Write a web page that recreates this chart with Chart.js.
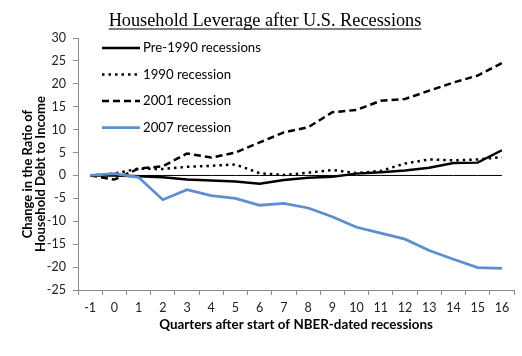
<!DOCTYPE html>
<html>
<head>
<meta charset="utf-8">
<script src="https://cdn.jsdelivr.net/npm/chart.js@4.4.0/dist/chart.umd.min.js"></script>
<style>
html,body{margin:0;padding:0;background:#fff;}
#wrap{width:522px;height:356px;position:relative;}
</style>
</head>
<body>
<div id="wrap"><canvas id="c" width="522" height="356"></canvas></div>
<script>
const categories = ['-1','0','1','2','3','4','5','6','7','8','9','10','11','12','13','14','15','16'];
const pre1990 = [0,0,-0.2,-0.4,-0.9,-1.1,-1.3,-1.8,-1.0,-0.5,-0.3,0.4,0.7,1.1,1.7,2.7,2.8,5.5];
const rec1990 = [0,0.4,1.5,1.4,1.9,2.1,2.4,0.5,0.1,0.6,1.2,0.5,1.0,2.6,3.5,3.3,3.5,4.0];
const rec2001 = [0,-0.9,1.5,2.0,4.8,3.9,5.0,7.2,9.4,10.5,13.8,14.3,16.3,16.7,18.5,20.3,21.8,24.5];
const rec2007 = [0,0.4,-0.4,-5.3,-3.1,-4.4,-5.0,-6.5,-6.1,-7.1,-9.0,-11.3,-12.6,-13.9,-16.4,-18.3,-20.1,-20.3];
const zeroLine = [0,0,0,0,0,0,0,0,0,0,0,0,0,0,0,0,0,0];
const seriesNames = ['Pre-1990 recessions','1990 recession','2001 recession','2007 recession'];
const yTicks = {min:-25, max:30, step:5};
const titleText = 'Household Leverage after U.S. Recessions';
const yTitle = ['Change in the Ratio of','Household Debt to Income'];
const xTitle = 'Quarters after start of NBER-dated recessions';

const FONT = 'Lato, "DejaVu Sans", sans-serif';

const decor = {
  id:'decor',
  afterDraw(chart){
    const ctx = chart.ctx;
    ctx.save();
    // title
    ctx.font = '18.3px "Liberation Serif", "Times New Roman", serif';
    ctx.fillStyle = '#000';
    ctx.textAlign = 'center';
    ctx.textBaseline = 'alphabetic';
    const tx = 265, ty = 25.5;
    ctx.fillText(titleText, tx, ty);
    const w = ctx.measureText(titleText).width;
    ctx.strokeStyle = '#000';
    ctx.lineWidth = 1;
    ctx.beginPath();
    ctx.moveTo(tx - w/2, ty + 3.5);
    ctx.lineTo(tx + w/2, ty + 3.5);
    ctx.stroke();
    // y title
    ctx.font = 'bold 13px ' + FONT;
    ctx.fillStyle = '#000';
    ctx.textBaseline = 'middle';
    ctx.save();
    ctx.translate(28, 174);
    ctx.rotate(-Math.PI/2);
    ctx.fillText(yTitle[0], 0, 0);
    ctx.fillText(yTitle[1], 0, 12.5);
    ctx.restore();
    // x title
    ctx.font = 'bold 13.4px ' + FONT;
    ctx.fillText(xTitle, 296, 325);
    // legend
    const ds = chart.data.datasets.slice(0,4);
    ctx.font = '13.2px ' + FONT;
    ctx.textAlign = 'left';
    ds.forEach((d,i)=>{
      const y = 48 + i*26.5;
      ctx.strokeStyle = d.borderColor;
      ctx.lineWidth = d.borderWidth;
      ctx.setLineDash(d.borderDash || []);
      ctx.beginPath();
      ctx.moveTo(102, y);
      ctx.lineTo(140, y);
      ctx.stroke();
      ctx.setLineDash([]);
      ctx.fillStyle = '#000';
      ctx.fillText(d.label, 143, y);
    });
    ctx.restore();
  }
};

new Chart(document.getElementById('c'), {
  type:'line',
  data:{
    labels:categories,
    datasets:[
      {label:seriesNames[0], data:pre1990, borderColor:'#000', borderWidth:2.5, pointRadius:0, tension:0, order:1},
      {label:seriesNames[1], data:rec1990, borderColor:'#000', borderWidth:2.5, borderDash:[2.5,4], pointRadius:0, tension:0, order:2},
      {label:seriesNames[2], data:rec2001, borderColor:'#000', borderWidth:2.5, borderDash:[7,4], pointRadius:0, tension:0, order:3},
      {label:seriesNames[3], data:rec2007, borderColor:'#5B8FD0', borderWidth:2.75, pointRadius:0, tension:0, order:0},
      {label:'zero', data:zeroLine, borderColor:'#000', borderWidth:1, pointRadius:0, tension:0, order:5}
    ]
  },
  options:{
    responsive:false,
    animation:false,
    devicePixelRatio:1,
    layout:{padding:{left:0, right:8, top:38, bottom:0}},
    plugins:{legend:{display:false}, title:{display:false}, tooltip:{enabled:false}},
    scales:{
      x:{
        offset:true,
        grid:{offset:true, drawOnChartArea:false, drawTicks:true, tickLength:5, color:'#8c8c8c'},
        border:{display:true, color:'#8c8c8c', width:1},
        ticks:{font:{family:FONT, size:12.5}, color:'#222', padding:5, maxRotation:0, autoSkip:false},
        afterFit(s){ s.height = 66; }
      },
      y:{
        min:yTicks.min, max:yTicks.max,
        grid:{drawOnChartArea:false, drawTicks:true, tickLength:5, color:'#8c8c8c'},
        border:{display:true, color:'#8c8c8c', width:1},
        ticks:{stepSize:yTicks.step, font:{family:FONT, size:12.5}, color:'#222', padding:7},
        afterFit(s){ s.width = 78; }
      }
    }
  },
  plugins:[decor]
});
</script>
</body>
</html>
